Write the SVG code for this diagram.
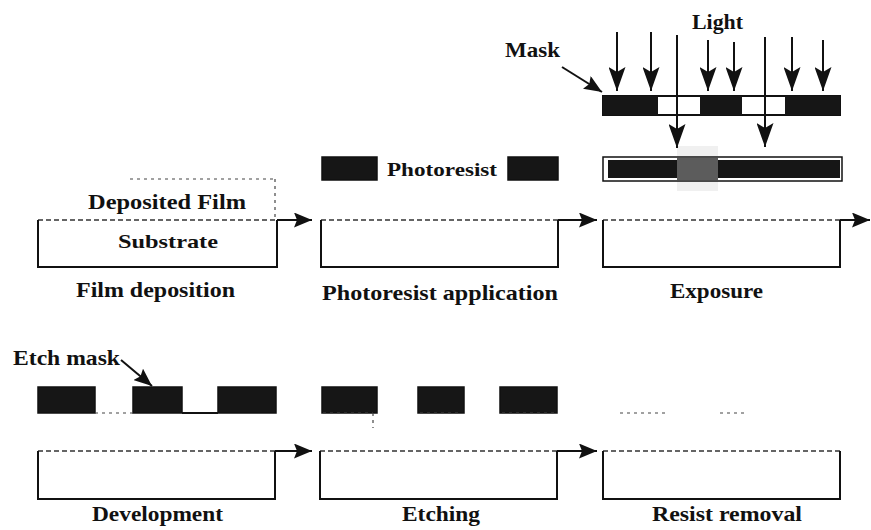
<svg xmlns="http://www.w3.org/2000/svg" width="871" height="530" viewBox="0 0 871 530">
<style>
.lbl{font-family:"Liberation Serif","Times New Roman",serif;font-weight:bold;font-size:21px;fill:#111}
.sm{font-size:19px}
.box{fill:none;stroke:#111;stroke-width:2}
.top{stroke:#333;stroke-width:1.3;stroke-dasharray:5 3}
.dots{stroke:#444;stroke-width:1.2;stroke-dasharray:3 4}
.resist{fill:#161616;stroke:#111;stroke-width:1.5}
.ln{stroke:#111;stroke-width:2;fill:none}
</style>
<defs>
<marker id="headL" markerUnits="userSpaceOnUse" markerWidth="24" markerHeight="17" viewBox="0 0 24 17" refX="24" refY="8.5" orient="auto">
<path d="M0,0 L24,8.5 L0,17 L5,8.5 z" fill="#111"/>
</marker>
<marker id="headP" markerUnits="userSpaceOnUse" markerWidth="18" markerHeight="15" viewBox="0 0 18 15" refX="18" refY="7.5" orient="auto">
<path d="M0,0 L18,7.5 L0,15 L3,7.5 z" fill="#111"/>
</marker>
</defs>
<rect width="871" height="530" fill="#fff"/>

<g id="film-deposition">
<line class="dots" x1="130" y1="179" x2="275" y2="179"/>
<line class="dots" x1="275" y1="179" x2="275" y2="220"/>
<line class="top" x1="38" y1="220" x2="277" y2="220"/>
<path class="box" d="M38,220 V267 H277 V220"/>
<text class="lbl" x="88" y="209" textLength="158" lengthAdjust="spacingAndGlyphs">Deposited Film</text>
<text class="lbl sm" x="118" y="248" textLength="100" lengthAdjust="spacingAndGlyphs">Substrate</text>
<text class="lbl" x="76" y="297" textLength="159" lengthAdjust="spacingAndGlyphs">Film deposition</text>
</g>

<g id="photoresist-application">
<rect class="resist" x="322" y="157" width="55" height="23"/>
<rect class="resist" x="508" y="157" width="50" height="23"/>
<text class="lbl sm" x="387" y="176" textLength="110" lengthAdjust="spacingAndGlyphs">Photoresist</text>
<line class="top" x1="321" y1="220" x2="558" y2="220"/>
<path class="box" d="M321,220 V267 H558 V220"/>
<text class="lbl" x="322" y="300" textLength="236" lengthAdjust="spacingAndGlyphs">Photoresist application</text>
</g>

<g id="exposure">
<rect x="677" y="146" width="41" height="45" fill="#f0f0f0"/>
<rect x="603" y="157" width="239" height="24" fill="#fff" stroke="#111" stroke-width="1.5"/>
<rect x="608" y="160" width="232" height="18" fill="#161616"/>
<rect x="677" y="158" width="41" height="22" fill="#5c5c5c"/>
<rect x="603" y="96" width="237" height="19" fill="#fff" stroke="#111" stroke-width="2"/>
<rect x="603" y="96" width="55" height="19" fill="#161616"/>
<rect x="700" y="96" width="42" height="19" fill="#161616"/>
<rect x="785" y="96" width="55" height="19" fill="#161616"/>
<text class="lbl" x="692" y="29" textLength="51" lengthAdjust="spacingAndGlyphs">Light</text>
<text class="lbl" x="505" y="57" textLength="55" lengthAdjust="spacingAndGlyphs">Mask</text>
<line class="top" x1="603" y1="220" x2="840" y2="220"/>
<path class="box" d="M603,220 V267 H840 V220"/>
<text class="lbl" x="670" y="298" textLength="93" lengthAdjust="spacingAndGlyphs">Exposure</text>
</g>

<g id="development">
<rect class="resist" x="38" y="387" width="57" height="26"/>
<rect class="resist" x="133" y="387" width="49" height="26"/>
<rect class="resist" x="218" y="387" width="58" height="26"/>
<line class="dots" x1="95" y1="413" x2="133" y2="413"/>
<line class="ln" x1="182" y1="413" x2="218" y2="413" stroke-width="1.2"/>
<text class="lbl" x="13" y="365" textLength="107" lengthAdjust="spacingAndGlyphs">Etch mask</text>
<line class="top" x1="38" y1="451" x2="275" y2="451"/>
<path class="box" d="M38,451 V499 H275 V451"/>
<text class="lbl" x="92" y="521" textLength="131" lengthAdjust="spacingAndGlyphs">Development</text>
</g>

<g id="etching">
<rect class="resist" x="322" y="387" width="55" height="26"/>
<rect class="resist" x="418" y="387" width="46" height="26"/>
<rect class="resist" x="500" y="387" width="57" height="26"/>
<line class="dots" x1="323" y1="413" x2="373" y2="413"/>
<line class="dots" x1="373" y1="413" x2="373" y2="428"/>
<line class="dots" x1="420" y1="413" x2="462" y2="413"/>
<line class="dots" x1="502" y1="413" x2="556" y2="413"/>
<line class="top" x1="320" y1="451" x2="557" y2="451"/>
<path class="box" d="M320,451 V499 H557 V451"/>
<text class="lbl" x="402" y="521" textLength="78" lengthAdjust="spacingAndGlyphs">Etching</text>
</g>

<g id="resist-removal">
<line class="dots" x1="620" y1="413" x2="665" y2="413"/>
<line class="dots" x1="720" y1="413" x2="746" y2="413"/>
<line class="top" x1="603" y1="451" x2="840" y2="451"/>
<path class="box" d="M603,451 V499 H840 V451"/>
<text class="lbl" x="652" y="521" textLength="150" lengthAdjust="spacingAndGlyphs">Resist removal</text>
</g>

<g id="connectors">
<line class="ln" x1="277" y1="220" x2="312" y2="220" marker-end="url(#headP)"/>
<line class="ln" x1="558" y1="220" x2="597" y2="220" marker-end="url(#headP)"/>
<line class="ln" x1="840" y1="220" x2="870" y2="220" marker-end="url(#headP)"/>
<line class="ln" x1="275" y1="451" x2="312" y2="451" marker-end="url(#headP)"/>
<line class="ln" x1="557" y1="451" x2="597" y2="451" marker-end="url(#headP)"/>
<line class="ln" x1="617" y1="32" x2="617" y2="91" marker-end="url(#headL)"/>
<line class="ln" x1="651" y1="32" x2="651" y2="91" marker-end="url(#headL)"/>
<line class="ln" x1="708" y1="40" x2="708" y2="91" marker-end="url(#headL)"/>
<line class="ln" x1="734" y1="42" x2="734" y2="91" marker-end="url(#headL)"/>
<line class="ln" x1="792" y1="37" x2="792" y2="91" marker-end="url(#headL)"/>
<line class="ln" x1="823" y1="40" x2="823" y2="91" marker-end="url(#headL)"/>
<line class="ln" x1="677" y1="35" x2="677" y2="148" marker-end="url(#headL)"/>
<line class="ln" x1="765" y1="37" x2="765" y2="147" marker-end="url(#headL)"/>
<line class="ln" x1="562" y1="67" x2="602" y2="92" marker-end="url(#headP)"/>
<line class="ln" x1="121" y1="360" x2="152" y2="386" marker-end="url(#headP)"/>
</g>
</svg>
